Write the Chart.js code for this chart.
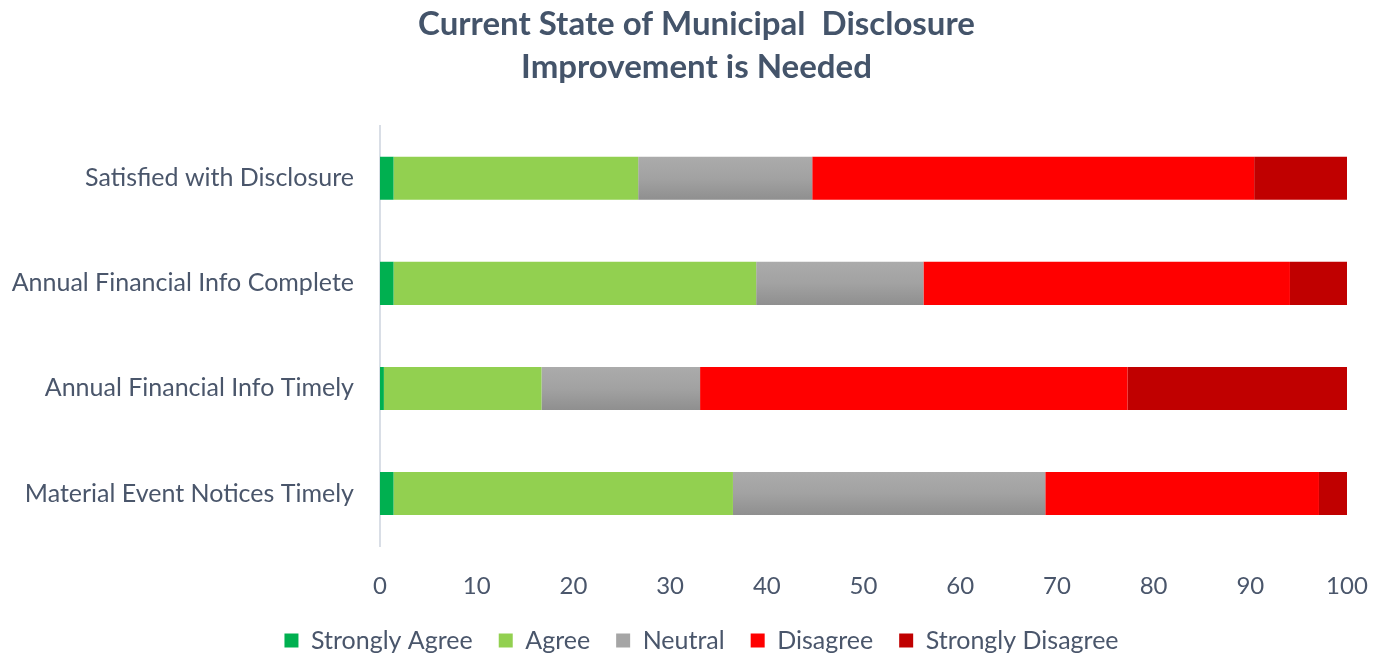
<!DOCTYPE html>
<html>
<head>
<meta charset="utf-8">
<script src="https://cdn.jsdelivr.net/npm/chart.js@4"></script>
<style>
  html, body { margin: 0; padding: 0; background: #fff; }
  #wrap { width: 1374px; height: 656px; }
</style>
</head>
<body>
<div id="wrap"><canvas id="disclosure" width="1374" height="656"></canvas></div>
<script>
const categories = [
    'Satisfied with Disclosure',
    'Annual Financial Info Complete',
    'Annual Financial Info Timely',
    'Material Event Notices Timely'
];
const stronglyAgree = [1.4, 1.4, 0.4, 1.4];
const agree = [25.3, 37.5, 16.3, 35.1];
const neutral = [18.0, 17.3, 16.4, 32.3];
const disagree = [45.7, 37.9, 44.2, 28.3];
const stronglyDisagree = [9.6, 5.9, 22.7, 2.9];
const seriesNames = ['Strongly Agree', 'Agree', 'Neutral', 'Disagree', 'Strongly Disagree'];

const textColor = '#4a566b';
const fontFamily = "Lato, 'Open Sans', sans-serif";

// neutral segments get a soft top-to-bottom grey shade
function neutralFill(ctx) {
    const chart = ctx.chart;
    const yScale = chart.scales && chart.scales.y;
    if (!yScale || typeof ctx.dataIndex !== 'number') return '#a5a5a5';
    const cy = yScale.getPixelForValue(ctx.dataIndex);
    const step = Math.abs(yScale.getPixelForValue(1) - yScale.getPixelForValue(0));
    const h = step * 0.41 / 2;
    if (!Number.isFinite(cy) || !Number.isFinite(h) || h <= 0) return '#a5a5a5';
    const g = chart.ctx.createLinearGradient(0, cy - h, 0, cy + h);
    g.addColorStop(0, '#ababab');
    g.addColorStop(0.5, '#a2a2a2');
    g.addColorStop(1, '#8f8f8f');
    return g;
}

// title and legend sit a little right of the canvas centre,
// while the y labels still need the full left margin
const centreShift = {
    id: 'centreShift',
    afterLayout(chart) {
        if (chart.titleBlock) chart.titleBlock.left = 46;
        if (chart.legend) chart.legend.left = 56;
    }
};

const datasets = [
    { label: seriesNames[0], data: stronglyAgree, backgroundColor: '#00b050' },
    { label: seriesNames[1], data: agree, backgroundColor: '#92d050' },
    { label: seriesNames[2], data: neutral, backgroundColor: neutralFill },
    { label: seriesNames[3], data: disagree, backgroundColor: '#ff0000' },
    { label: seriesNames[4], data: stronglyDisagree, backgroundColor: '#c00000' }
].map(ds => ({
    ...ds,
    borderWidth: 0,
    barPercentage: 0.41,
    categoryPercentage: 1
}));

new Chart(document.getElementById('disclosure'), {
    type: 'bar',
    data: { labels: categories, datasets: datasets },
    plugins: [centreShift],
    options: {
        indexAxis: 'y',
        responsive: false,
        animation: false,
        layout: { padding: { left: 0, right: 27, top: 0, bottom: -7 } },
        plugins: {
            title: {
                display: true,
                text: ['Current State of Municipal  Disclosure', 'Improvement is Needed'],
                color: '#44546a',
                font: { family: fontFamily, size: 33, weight: 'bold', lineHeight: 1.33 },
                padding: { top: 2, bottom: 36 }
            },
            legend: {
                position: 'bottom',
                labels: {
                    boxWidth: 14,
                    boxHeight: 14,
                    padding: 26,
                    color: textColor,
                    font: { family: fontFamily, size: 25 },
                    generateLabels: function (chart) {
                        return chart.data.datasets.map((ds, i) => ({
                            text: ds.label,
                            fillStyle: i === 2 ? '#a5a5a5' : ds.backgroundColor,
                            strokeStyle: 'transparent',
                            lineWidth: 0,
                            fontColor: textColor,
                            hidden: false,
                            datasetIndex: i
                        }));
                    }
                }
            },
            tooltip: { enabled: false }
        },
        scales: {
            x: {
                stacked: true,
                min: 0,
                max: 100,
                grid: { display: false, drawTicks: false },
                border: { display: false },
                ticks: {
                    stepSize: 10,
                    padding: 26,
                    color: textColor,
                    font: { family: fontFamily, size: 24 }
                },
                afterFit: function (scale) {
                    scale.height = 56;
                    scale.paddingLeft = 0;
                    scale.paddingRight = 0;
                }
            },
            y: {
                stacked: true,
                grid: { display: false, drawTicks: false },
                border: { display: true, color: '#d9dee6', width: 2 },
                ticks: {
                    padding: 26,
                    color: textColor,
                    font: { family: fontFamily, size: 25 }
                },
                afterFit: function (scale) {
                    scale.width = 380;
                }
            }
        }
    }
});
</script>
</body>
</html>
